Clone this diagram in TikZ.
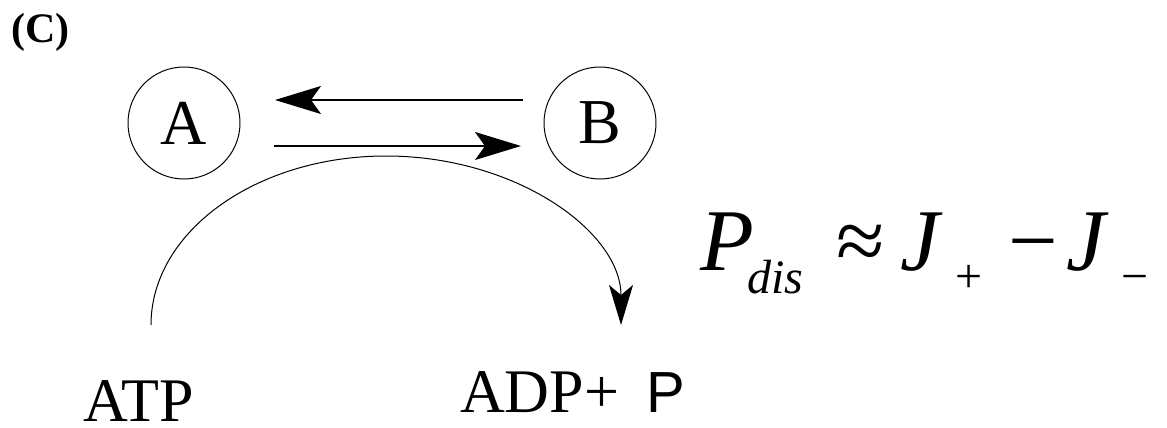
\documentclass[tikz,border=0pt]{standalone}
\usepackage{fontspec}
\setmainfont{Liberation Serif}
\newfontfamily\arialfont{Liberation Sans}
\usetikzlibrary{arrows.meta,calc}
\tikzset{
  state/.style={draw, circle, line width=1pt, minimum size=112pt, inner sep=0pt, font=\fontsize{64}{64}\selectfont},
  lbl/.style={inner sep=0pt, anchor=base west},
  big/.style={lbl, font=\fontsize{62}{62}\selectfont},
  eqbig/.style={lbl, font=\fontsize{88}{88}\selectfont},
  eqsub/.style={lbl, font=\fontsize{48}{48}\selectfont},
  flux/.style={line width=1.3pt, -{Stealth[length=46pt,width=28pt,inset=10pt]}},
  hydro/.style={line width=1pt, -{Stealth[length=40pt,width=24pt,inset=10pt]}}
}
\begin{document}
\begin{tikzpicture}[x=1pt,y=-1pt]
\useasboundingbox (0,0) rectangle (1167,428);
\node[lbl, font=\fontsize{42}{42}\selectfont\bfseries] (lab) at (11,43) {(C)};
\node[state] (A) at (184,123) {A};
\node[state] (B) at (600,123) {B};
\node[big] (atp) at (83,421) {ATP};
\node[big] (adp) at (460,412) {ADP+};
\node[lbl, font=\fontsize{58}{58}\selectfont\arialfont] (pi) at (646,412) {P};
\coordinate (s) at ($(atp.base west)+(68,-96)$);
\draw[flux] ($(B.center)+(-77,-23)$) -- ($(A.center)+(91,-23)$);
\draw[flux] ($(A.center)+(90,23)$) -- ($(B.center)+(-79,23)$);
\draw[hydro] (s) arc[start angle=180, end angle=360, x radius=235, y radius=169];
% equation
\node[eqbig, font=\fontsize{88}{88}\selectfont\itshape] (P) at (700,270) {P};
\node[eqsub, font=\fontsize{48}{48}\selectfont\itshape] (dis) at (747,293) {dis};
\node[eqbig] (approx) at (836,270) {≈};
\node[eqbig, font=\fontsize{88}{88}\selectfont\itshape] (J1) at (900,270) {J};
\node[eqsub] (plus) at (955,292) {+};
\node[eqbig] (minus) at (1008,270) {−};
\node[eqbig, font=\fontsize{88}{88}\selectfont\itshape] (J2) at (1066,270) {J};
\node[eqsub] (sminus) at (1121,292) {−};
\end{tikzpicture}
\end{document}
